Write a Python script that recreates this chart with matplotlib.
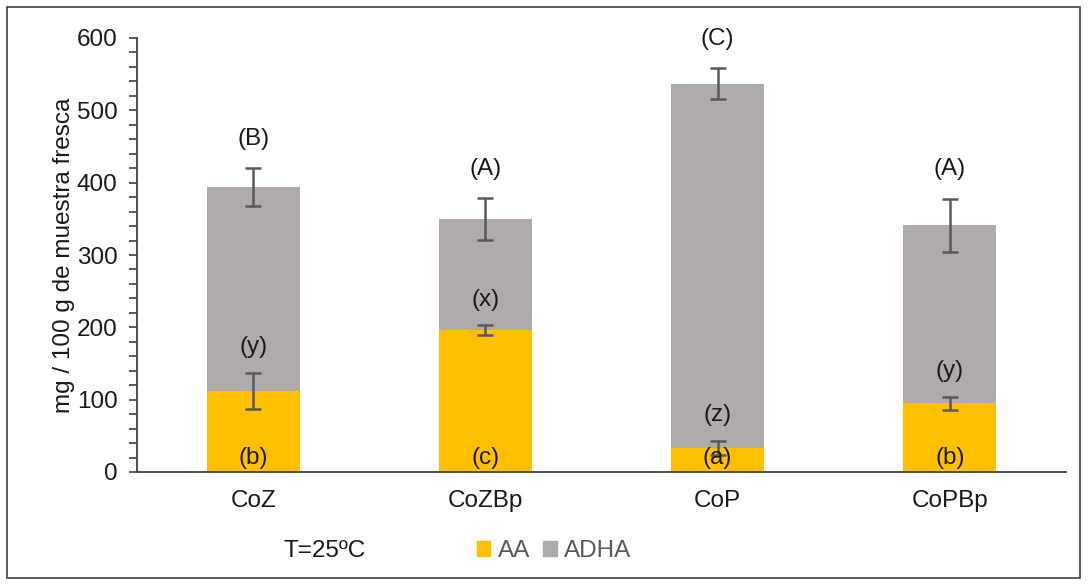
import matplotlib
matplotlib.use("Agg")
import matplotlib.pyplot as plt
from matplotlib.patches import Rectangle, Patch
from matplotlib.ticker import MultipleLocator

plt.rcParams['font.family'] = ['Liberation Sans', 'DejaVu Sans']

categories = ["CoZ", "CoZBp", "CoP", "CoPBp"]
aa_values = [112, 196, 33, 95]
aa_errors = [25, 7, 10, 9]
adha_values = [282, 154, 504, 246]   # stacked on AA; totals 394, 350, 537, 341
total_errors = [26, 29, 21, 37]
top_letters = ["(B)", "(A)", "(C)", "(A)"]
mid_letters = ["(y)", "(x)", "(z)", "(y)"]
bottom_letters = ["(b)", "(c)", "(a)", "(b)"]
series_names = ["AA", "ADHA"]
yticks = [0, 100, 200, 300, 400, 500, 600]

c_aa = "#FFC000"
c_adha = "#AFABAB"
c_err = "#595959"
c_axis = "#404040"
fs = 17.5

fig = plt.figure(figsize=(10.88, 5.85), dpi=100)
ax = fig.add_axes([137/1088, 1-472/585, (1066-137)/1088, (472-38)/585])

x = list(range(len(categories)))
totals = [a + d for a, d in zip(aa_values, adha_values)]
ax.bar(x, aa_values, width=0.4, color=c_aa, zorder=2)
ax.bar(x, adha_values, bottom=aa_values, width=0.4, color=c_adha, zorder=2)
ax.errorbar(x, aa_values, yerr=aa_errors, fmt='none', ecolor=c_err, elinewidth=1.8,
            capsize=6, capthick=1.8, zorder=3)
ax.errorbar(x, totals, yerr=total_errors, fmt='none', ecolor=c_err, elinewidth=1.8,
            capsize=6, capthick=1.8, zorder=3)

for i in x:
    ax.text(i, totals[i] + total_errors[i] + 25, top_letters[i], ha='center', va='bottom',
            fontsize=fs, color='#1a1a1a', zorder=4)
    ax.text(i, aa_values[i] + aa_errors[i] + 20, mid_letters[i], ha='center', va='bottom',
            fontsize=fs, color='#1a1a1a', zorder=4)
    ax.text(i, 4, bottom_letters[i], ha='center', va='bottom',
            fontsize=fs, color='#1a1a1a', zorder=4)

ax.set_xlim(-0.5, 3.5)
ax.set_ylim(0, 600)
ax.set_yticks(yticks)
ax.yaxis.set_minor_locator(MultipleLocator(20))
ax.set_xticks(x)
ax.set_xticklabels(categories)
ax.tick_params(axis='x', length=0, pad=13, labelsize=fs, colors='#1a1a1a')
ax.tick_params(axis='y', which='major', length=6, width=1.2, color=c_axis, labelsize=fs,
               labelcolor='#1a1a1a', pad=8)
ax.tick_params(axis='y', which='minor', length=6, width=1.2, color=c_axis)
for s in ['top', 'right']:
    ax.spines[s].set_visible(False)
for s in ['left', 'bottom']:
    ax.spines[s].set_color(c_axis)
    ax.spines[s].set_linewidth(1.3)
ax.set_ylabel("mg / 100 g de muestra fresca", fontsize=fs, color='#1a1a1a', labelpad=1)

fig.text(283/1088, 1-551/585, "T=25ºC", fontsize=fs, color='#1a1a1a', va='center', ha='left')
handles = [Patch(color=c_aa), Patch(color=c_adha)]
leg = fig.legend(handles, series_names, loc='center left', bbox_to_anchor=(477/1088, 1-551/585),
                 ncol=2, frameon=False, fontsize=fs, handlelength=0.55, handleheight=0.55,
                 handletextpad=0.3, columnspacing=0.55, borderaxespad=0, borderpad=0)
for t in leg.get_texts():
    t.set_color('#595959')

fig.patches.append(Rectangle((7/1088, 7/585), 1073/1088, 571/585, transform=fig.transFigure,
                             fill=False, edgecolor='#404040', linewidth=1.2))

fig.savefig("out.png", dpi=100)
